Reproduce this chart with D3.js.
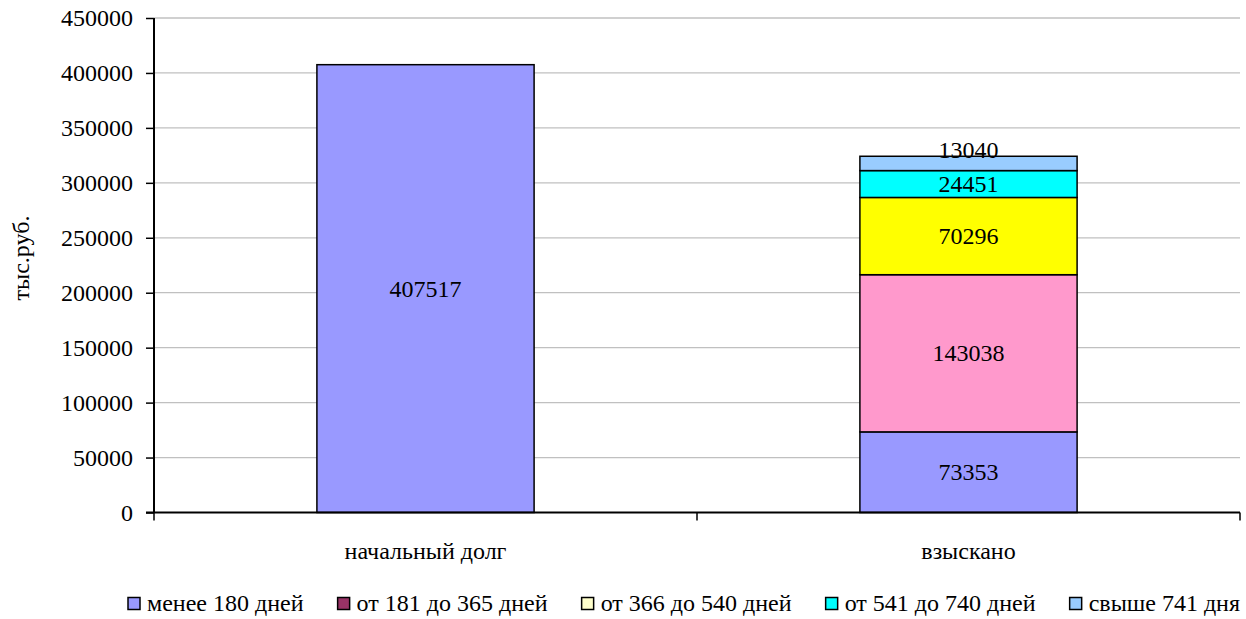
<!DOCTYPE html>
<html>
<head>
<meta charset="utf-8">
<script src="https://cdn.jsdelivr.net/npm/d3@7"></script>
<style>
  html, body { margin: 0; padding: 0; background: #fff; }
  svg { display: block; font-family: "Liberation Serif", "Times New Roman", Times, serif; }
  svg text { font-family: "Liberation Serif", "Times New Roman", Times, serif !important; fill: #000; }
</style>
</head>
<body>
<svg id="chart" width="1246" height="619"></svg>
<script>
// Categories and stacked series values (тыс.руб.)
const categories = ["начальный долг", "взыскано"];
const seriesNames = ["менее 180 дней", "от 181 до 365 дней", "от 366 до 540 дней", "от 541 до 740 дней", "свыше 741 дня"];
const seriesValues = [
  [407517, 73353],
  [0, 143038],
  [0, 70296],
  [0, 24451],
  [0, 13040]
];
const barColors = ["#9999FF", "#FF99CC", "#FFFF00", "#00FFFF", "#99CCFF"];
const legendColors = ["#9999FF", "#993366", "#FFFFCC", "#00FFFF", "#99CCFF"];
const yTicks = [0, 50000, 100000, 150000, 200000, 250000, 300000, 350000, 400000, 450000];
const yLabel = "тыс.руб.";

const fontSize = 24;
const serif = '"Liberation Serif", "Times New Roman", Times, serif';
const svg = d3.select("#chart");
const plot = { left: 154, right: 1240, top: 18, bottom: 512.5 };

const xOuter = d3.scaleBand().domain(categories).range([plot.left, plot.right]);
const y = d3.scaleLinear().domain([0, 450000]).range([plot.bottom, plot.top]);

// Gridlines
svg.append("g").selectAll("line").data(yTicks.filter(d => d > 0)).join("line")
  .attr("x1", plot.left).attr("x2", plot.right)
  .attr("y1", d => y(d)).attr("y2", d => y(d))
  .attr("stroke", "#c0c0c0").attr("stroke-width", 1.3);

// Stacked bars
const rows = categories.map((c, i) => {
  const r = { category: c };
  seriesNames.forEach((s, k) => r[s] = seriesValues[k][i]);
  return r;
});
const stacked = d3.stack().keys(seriesNames)(rows);

const barW = xOuter.bandwidth() * 0.4;
const bars = svg.append("g");
stacked.forEach((layer, k) => {
  layer.forEach(seg => {
    const v = seg[1] - seg[0];
    if (v <= 0) return;
    const cx = xOuter(seg.data.category) + xOuter.bandwidth() / 2;
    bars.append("rect")
      .attr("x", cx - barW / 2).attr("width", barW)
      .attr("y", y(seg[1])).attr("height", y(seg[0]) - y(seg[1]))
      .attr("fill", barColors[k]).attr("stroke", "#000").attr("stroke-width", 1.5);
  });
});
// Value labels; a label too tall for its segment is lifted to sit on the segment top
stacked.forEach((layer, k) => {
  layer.forEach(seg => {
    const v = seg[1] - seg[0];
    if (v <= 0) return;
    const cx = xOuter(seg.data.category) + xOuter.bandwidth() / 2;
    const h = y(seg[0]) - y(seg[1]);
    const t = bars.append("text")
      .attr("x", cx).attr("text-anchor", "middle")
      .style("font-size", fontSize + "px").style("font-family", serif)
      .text(v);
    if (h < fontSize * 0.7) t.attr("y", y(seg[1]) + 2);
    else t.attr("y", (y(seg[0]) + y(seg[1])) / 2).attr("dy", "0.33em");
  });
});

// Y axis
const yAxis = svg.append("g").attr("transform", `translate(${plot.left},0)`)
  .call(d3.axisLeft(y).tickValues(yTicks).tickSize(8).tickPadding(13).tickFormat(d3.format("d")));
yAxis.attr("font-family", serif).attr("font-size", fontSize);
yAxis.select(".domain").attr("stroke", "#000").attr("stroke-width", 2).attr("d", `M0,${plot.top}V${plot.bottom}`);
yAxis.selectAll(".tick line").attr("stroke", "#000").attr("stroke-width", 1.5);
yAxis.selectAll(".tick text").style("font-size", fontSize + "px").style("font-family", serif).attr("dy", "0.33em");

// X axis
const xAxis = svg.append("g").attr("transform", `translate(0,${plot.bottom})`);
xAxis.append("line").attr("x1", plot.left - 8).attr("x2", plot.right)
  .attr("stroke", "#000").attr("stroke-width", 2);
const xTickPos = [plot.left, ...categories.map(c => xOuter(c) + xOuter.bandwidth())];
xAxis.selectAll("line.tk").data(xTickPos).join("line").attr("class", "tk")
  .attr("x1", d => d).attr("x2", d => d).attr("y1", 0).attr("y2", 8)
  .attr("stroke", "#000").attr("stroke-width", 1.5);
xAxis.selectAll("text").data(categories).join("text")
  .attr("x", d => xOuter(d) + xOuter.bandwidth() / 2).attr("y", 46)
  .attr("text-anchor", "middle").style("font-size", fontSize + "px").style("font-family", serif)
  .text(d => d);

// Y axis title
svg.append("text")
  .attr("transform", `translate(29,258) rotate(-90)`)
  .attr("text-anchor", "middle").style("font-size", fontSize + "px").style("font-family", serif)
  .text(yLabel);

// Legend spread across the width under the plot
const legend = svg.append("g").attr("transform", "translate(0,611)");
const items = legend.selectAll("g").data(seriesNames).join("g");
items.append("rect").attr("width", 12).attr("height", 12).attr("y", -13.5)
  .attr("fill", (d, i) => legendColors[i]).attr("stroke", "#000").attr("stroke-width", 1.5);
items.append("text").attr("x", 19).attr("y", 0).style("font-size", fontSize + "px").style("font-family", serif).text(d => d);
const widths = [];
items.each(function () { widths.push(19 + this.querySelector("text").getComputedTextLength()); });
const legendStart = 128, legendEnd = 1240;
const gap = (legendEnd - legendStart - d3.sum(widths)) / (widths.length - 1);
let pos = legendStart;
items.each(function (d, i) {
  d3.select(this).attr("transform", `translate(${pos},0)`);
  pos += widths[i] + gap;
});
</script>
</body>
</html>
